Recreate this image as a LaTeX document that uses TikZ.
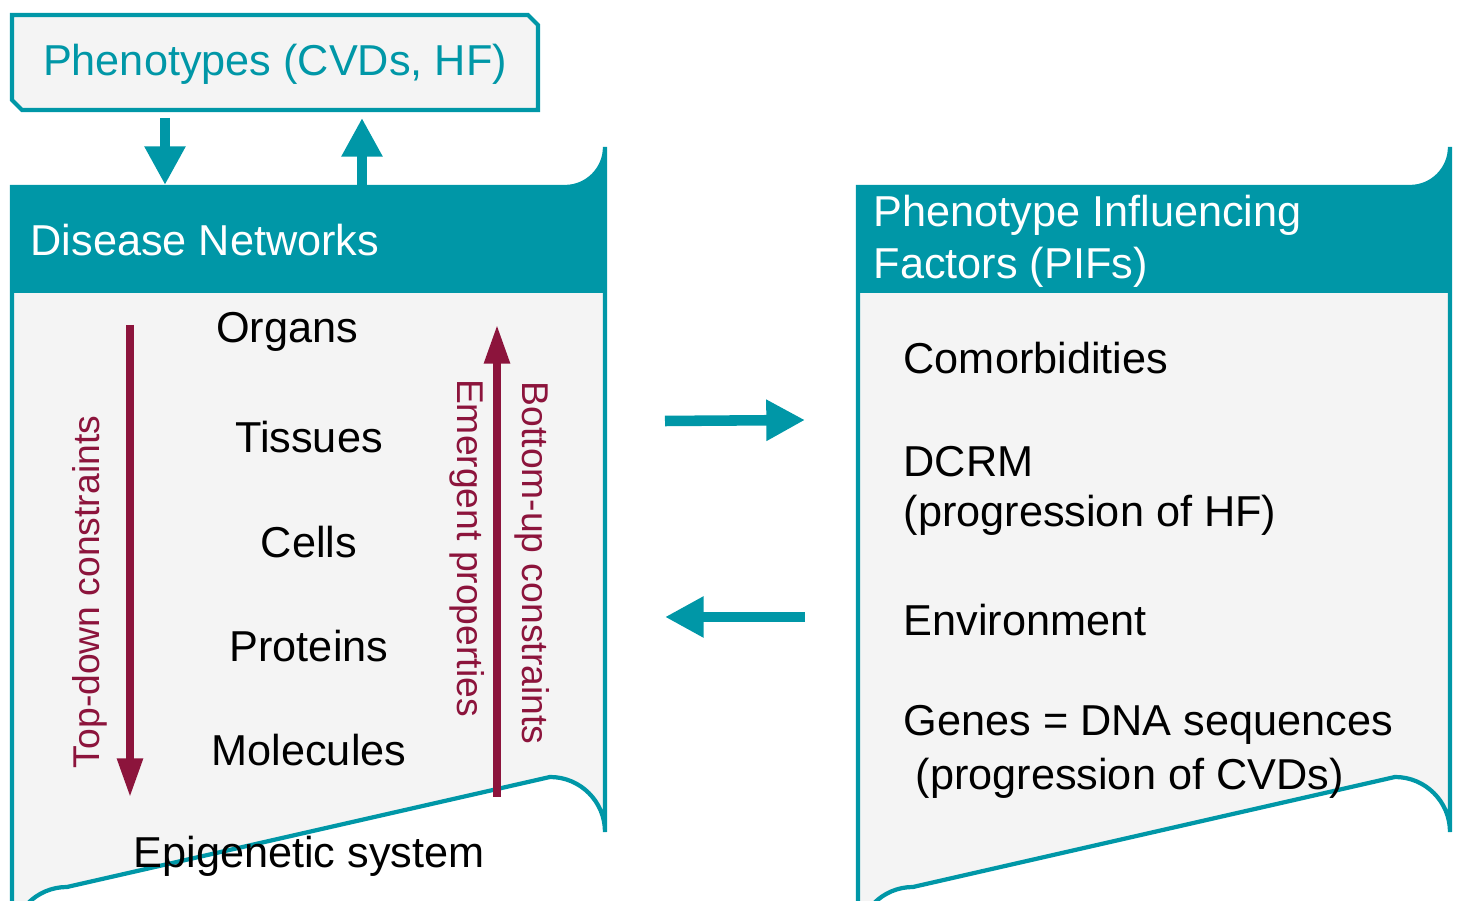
\documentclass[tikz,border=0pt]{standalone}
\usepackage{fontspec}
\setmainfont{Liberation Sans}
\usetikzlibrary{arrows.meta}
\definecolor{teal}{RGB}{0,151,167}
\definecolor{maroon}{RGB}{140,20,60}
\definecolor{boxfill}{RGB}{244,244,244}
\begin{document}
\begin{tikzpicture}[x=0.01cm,y=-0.01cm,
  txt/.style={font=\fontsize{12.3}{15}\selectfont,inner sep=0pt},
  rtxt/.style={font=\fontsize{10.6}{13}\selectfont,inner sep=0pt,text=maroon},
  hdr/.style={txt,text=white,anchor=west},
  tarrow/.style={teal,line width=3pt,-{Triangle[length=11pt,width=11pt]}},
  marrow/.style={maroon,line width=2pt,-{Triangle[length=11pt,width=7pt]}}]
\useasboundingbox (0,0) rectangle (1465,901);
% phenotypes box
\draw[teal,line width=1.2pt,fill=boxfill] (12,15) -- (528,15) -- (538,25) -- (538,110) -- (22,110) -- (12,100) -- cycle;
\node[txt,text=teal] (phen) at (275,64) {Phenotypes (CVDs, HF)};
% left box
\draw[teal,line width=1.2pt,fill=boxfill] (12,187) -- (565,187) arc[start angle=90,end angle=0,radius=40]
  -- (605,832) arc[start angle=0,end angle=-90,radius=55] -- (67,887) arc[start angle=-90,end angle=-180,radius=55] -- cycle;
\fill[teal] (12,187) -- (565,187) arc[start angle=90,end angle=0,radius=40] -- (605,293) -- (12,293) -- cycle;
\node[hdr] (dn) at (30,240) {Disease Networks};
% right box
\draw[teal,line width=1.2pt,fill=boxfill] (858,187) -- (1410,187) arc[start angle=90,end angle=0,radius=40]
  -- (1450,832) arc[start angle=0,end angle=-90,radius=55] -- (913,887) arc[start angle=-90,end angle=-180,radius=55] -- cycle;
\fill[teal] (858,187) -- (1410,187) arc[start angle=90,end angle=0,radius=40] -- (1450,293) -- (858,293) -- cycle;
\node[hdr] (pif1) at (873,215) {Phenotype Influencing};
\node[hdr] (pif2) at (873,267) {Factors (PIFs)};
% teal arrows
\coordinate (d1) at (165,118); \coordinate (d2) at (165,185);
\coordinate (u1) at (362,185); \coordinate (u2) at (362,118);
\draw[tarrow] (d1) -- (d2);
\draw[tarrow] (u1) -- (u2);
\coordinate (r1) at (665,421); \coordinate (r2) at (805,420);
\coordinate (l1) at (805,617); \coordinate (l2) at (665,617);
\draw[tarrow] (r1) -- (r2);
\draw[tarrow] (l1) -- (l2);
% levels
\node[txt] (org) at (287,332) {Organs};
\node[txt] (tis) at (309,437) {Tissues};
\node[txt] (cel) at (309,542) {Cells};
\node[txt] (pro) at (309,646) {Proteins};
\node[txt] (mol) at (309,750) {Molecules};
\node[txt] (epi) at (309,856) {Epigenetic system};
% maroon arrows
\coordinate (td1) at (130,325); \coordinate (td2) at (130,797);
\coordinate (bu1) at (497,797); \coordinate (bu2) at (497,325);
\draw[marrow] (td1) -- (td2);
\draw[marrow] (bu1) -- (bu2);
\node[rtxt,rotate=90] (tdl) at (90,592) {Top-down constraints};
\node[rtxt,rotate=-90] (epl) at (467,548) {Emergent properties};
\node[rtxt,rotate=-90] (bul) at (532,563) {Bottom-up constraints};
% PIFs
\node[txt,anchor=west] (com) at (903,358) {Comorbidities};
\node[txt,anchor=west] (dcrm) at (903,462) {DCRM};
\node[txt,anchor=west] (phf) at (903,515) {(progression of HF)};
\node[txt,anchor=west] (env) at (903,620) {Environment};
\node[txt,anchor=west] (gen) at (903,725) {Genes = DNA sequences};
\node[txt,anchor=west] (pcvd) at (915,778) {(progression of CVDs)};
\end{tikzpicture}
\end{document}
